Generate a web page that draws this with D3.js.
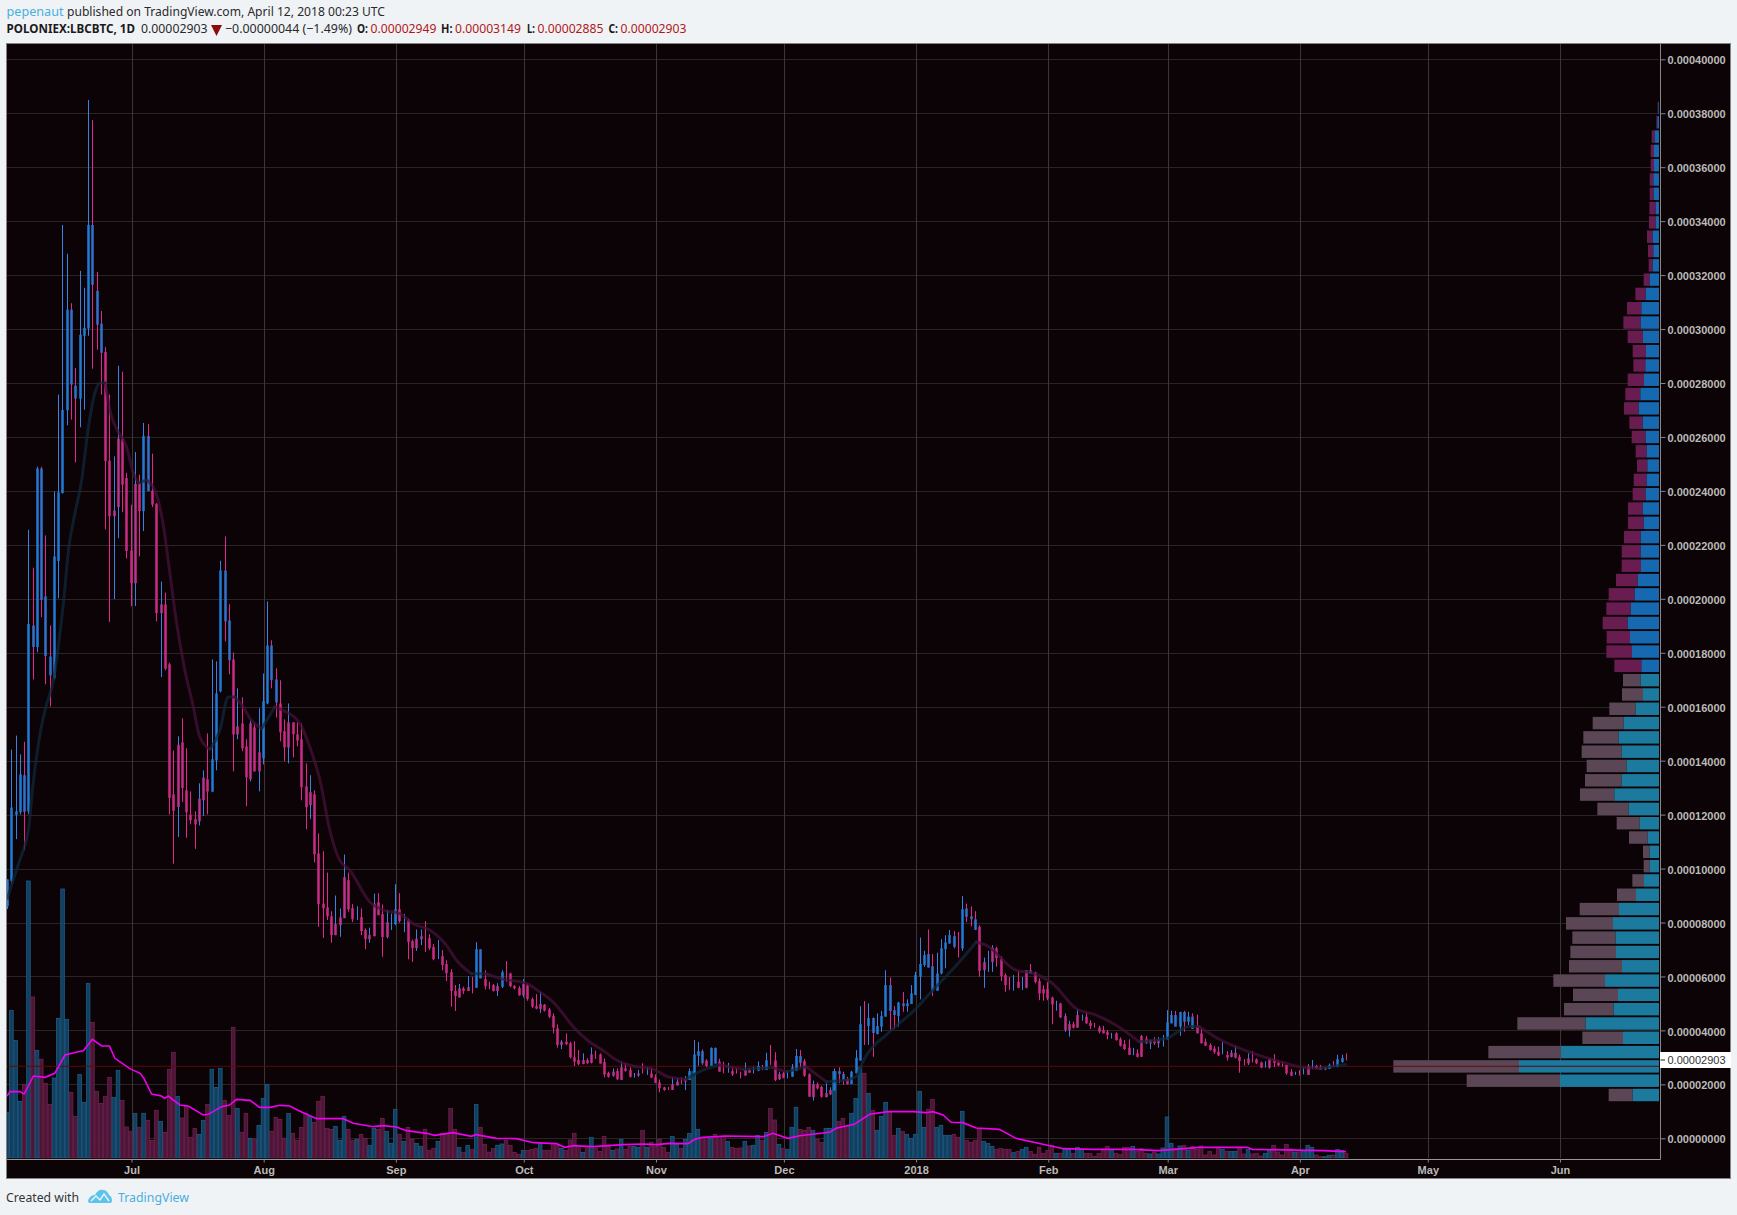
<!DOCTYPE html>
<html><head><meta charset="utf-8">
<script src="https://cdn.jsdelivr.net/npm/d3@7/dist/d3.min.js"></script>
<style>html,body{margin:0;padding:0;background:#f0f3f6}svg{display:block}</style>
</head><body><div id="c"></div>
<script>
// Prices are in units of 0.00001 BTC. One daily bar per index, first bar 2 Jun 2017.
const firstDay = Date.UTC(2017,5,2);
const opens=[8.6,9.54,11.99,12.09,12.1,12.12,18.21,18.21,19.96,17.88,
17.16,17.07,21.4,23.92,26.99,27.94,27.42,27.42,29.75,30.02,
31.64,30.16,29.12,29.15,25.12,23.27,25.94,25.94,24.48,21.79,
24.26,24.28,23.25,23.99,24.01,23.52,19.79,19.79,17.57,12.75,
14.59,14.68,12.9,12.0,11.83,12.59,13.37,13.31,12.85,14.01,
16.57,19.16,17.72,17.75,15.27,15.38,14.53,15.38,15.23,14.31,
14.09,16.12,16.98,16.16,16.12,15.09,15.42,15.42,14.98,14.79,
13.05,12.83,12.75,10.56,8.7,8.56,8.23,7.94,8.19,9.68,
9.57,8.53,8.35,8.2,7.72,7.53,8.7,8.75,8.31,8.01,
8.0,7.94,8.49,8.0,8.09,7.31,7.4,7.49,7.5,7.42,
7.09,7.0,6.75,6.46,6.16,5.46,5.56,5.56,5.6,5.7,
5.58,5.93,5.9,5.65,5.68,5.64,5.62,6.2,6.11,5.64,
5.57,5.72,5.67,5.16,4.9,4.98,4.95,4.78,4.53,4.07,
3.58,3.58,3.52,3.0,2.9,2.9,2.9,3.11,3.1,3.11,
2.83,2.42,2.47,2.49,2.63,2.59,2.53,2.33,2.4,2.6,
2.5,2.4,2.26,2.07,1.89,1.85,2.0,2.1,2.14,2.2,
2.16,2.41,3.06,2.78,2.88,2.68,2.77,2.84,2.6,2.6,
2.49,2.5,2.35,2.53,2.53,2.5,2.51,2.6,2.53,3.0,
2.89,2.38,2.41,2.35,2.28,2.5,2.8,2.86,2.37,2.01,
2.0,1.91,1.67,1.79,1.77,2.38,2.16,2.2,2.01,2.41,
2.88,4.0,4.16,3.9,3.86,4.14,4.51,4.72,4.57,4.53,
4.9,4.9,4.98,5.31,5.99,6.42,6.33,5.47,5.47,6.11,
7.01,7.22,7.1,7.2,7.04,8.21,8.12,7.73,7.84,6.53,
6.5,7.07,7.04,6.67,6.05,5.7,5.7,5.8,5.7,6.23,
6.11,6.15,5.83,5.53,5.53,5.22,4.9,5.0,4.53,4.23,
4.23,4.57,4.45,4.51,4.28,4.2,4.11,4.01,3.95,3.8,
3.89,3.67,3.49,3.36,3.2,3.15,3.79,3.7,3.64,3.62,
3.64,3.6,3.67,4.26,4.14,4.14,4.32,4.32,4.06,4.16,
3.89,3.58,3.46,3.33,3.21,3.3,3.09,3.17,3.17,3.02,
2.8,2.96,3.0,2.93,2.81,2.7,2.93,2.93,2.81,2.7,
2.72,2.47,2.4,2.4,2.5,2.68,2.7,2.68,2.65,2.62,
2.57,2.7,2.65,2.83,2.949];
const highs=[9.6,14.41,14.93,14.23,14.7,22.56,21.15,24.9,24.9,22.35,
19.01,23.98,27.57,33.86,32.79,30.96,28.56,32.16,31.53,38.49,
37.75,32.12,30.67,29.33,27.57,25.28,28.64,28.42,24.67,23.49,
25.44,24.6,26.52,26.48,25.38,23.55,20.64,20.23,17.63,14.38,
14.9,15.57,14.46,12.86,12.12,13.16,13.64,15.01,17.75,17.68,
21.41,22.31,19.8,18.01,16.68,16.35,14.79,15.49,15.38,15.94,
17.23,19.9,18.46,17.42,16.98,15.53,16.12,15.42,15.42,15.38,
13.9,13.46,12.9,11.3,10.64,9.85,8.42,9.0,8.52,10.52,
9.85,8.68,8.6,8.52,7.78,7.81,9.07,9.09,8.67,8.46,
8.33,9.42,9.09,8.31,8.15,7.37,7.74,7.74,8.05,7.57,
7.2,7.35,6.98,6.6,6.27,5.68,5.72,5.62,6.01,5.99,
7.27,7.01,6.23,5.8,5.72,5.75,6.23,6.57,6.14,5.68,
5.64,5.9,5.72,5.22,5.35,5.42,4.98,4.83,4.63,4.22,
3.64,3.89,3.58,3.6,3.27,3.15,2.97,3.37,3.25,3.15,
2.96,2.47,2.59,2.59,2.83,2.78,2.63,2.42,2.53,2.78,
2.63,2.62,2.37,2.18,1.91,1.9,2.26,2.22,2.26,2.31,
2.59,3.64,3.57,3.3,2.93,3.37,3.37,2.95,2.84,2.8,
2.63,2.6,2.47,2.81,2.6,2.65,2.85,2.72,3.17,3.46,
3.19,2.47,2.47,2.49,2.75,3.31,3.27,2.94,2.41,2.14,
2.07,1.95,2.04,1.89,2.59,2.63,2.47,2.28,2.5,3.27,
4.9,5.09,5.0,4.48,4.63,4.72,6.23,5.96,4.9,5.06,
5.42,5.15,5.68,6.17,7.44,6.95,7.74,6.83,6.88,7.38,
7.53,7.72,7.68,7.65,8.98,8.7,8.6,8.42,7.9,6.7,
6.95,7.16,7.1,6.75,6.11,5.98,6.05,6.21,5.98,6.23,
6.46,6.18,5.93,5.67,5.79,5.25,5.1,5.02,4.63,4.36,
4.32,4.78,4.59,4.67,4.38,4.28,4.17,4.17,4.01,3.91,
3.93,3.74,3.64,3.67,3.35,3.3,3.83,3.79,3.66,3.75,
3.75,3.83,4.75,4.73,4.72,4.69,4.72,4.69,4.63,4.59,
4.08,3.7,3.52,3.42,3.4,3.57,3.23,3.27,3.42,3.1,
2.94,3.15,3.23,2.96,2.84,2.86,2.96,3.12,2.86,2.84,
2.74,2.57,2.47,2.53,2.62,2.75,2.9,2.72,2.72,2.65,
2.77,2.86,3.1,3.1,3.149];
const lows=[8.5,9.44,11.09,12.0,10.68,12.01,17.01,18.02,19.32,16.83,
16.01,17.01,20.02,23.9,26.43,26.64,25.06,26.36,27.01,29.75,
28.53,29.23,27.57,22.57,19.14,19.99,22.25,23.21,21.5,19.73,
19.73,21.57,22.51,23.99,23.4,19.16,17.1,17.35,12.01,10.18,
11.17,12.47,11.14,11.64,10.73,11.6,11.95,12.01,12.83,13.64,
16.53,18.42,17.2,13.6,14.79,14.35,12.31,13.23,13.6,12.86,
13.86,16.09,16.68,15.6,14.72,13.98,13.9,14.12,14.53,12.53,
11.46,11.83,10.23,7.84,7.43,8.09,7.25,7.53,7.47,8.16,
8.4,8.02,8.09,7.53,7.01,7.25,7.49,8.27,6.73,7.41,
7.72,7.9,7.99,7.64,6.64,6.54,6.95,7.16,6.91,6.98,
6.6,6.64,6.23,5.83,4.88,4.72,5.22,5.35,5.46,5.37,
5.58,5.93,5.52,5.52,5.44,5.27,5.57,5.8,5.6,5.52,
5.28,5.22,5.1,4.83,4.78,4.65,4.7,4.46,3.89,3.36,
3.31,3.45,2.96,2.68,2.71,2.75,2.76,2.78,2.94,2.77,
2.26,2.25,2.28,2.16,2.16,2.47,2.25,2.25,2.28,2.4,
2.35,2.23,2.04,1.7,1.76,1.79,1.79,1.95,2.01,1.79,
2.16,2.41,2.69,2.72,2.64,2.68,2.77,2.47,2.41,2.43,
2.31,2.4,2.22,2.32,2.43,2.4,2.49,2.53,2.53,2.72,
2.12,2.16,2.22,2.22,2.28,2.5,2.63,2.28,1.54,1.4,
1.81,1.51,1.51,1.6,1.77,2.04,1.98,1.99,2.01,2.41,
2.88,3.46,3.46,3.02,3.86,3.95,4.51,4.01,4.05,4.14,
4.69,4.69,4.98,5.31,5.15,6.36,6.33,5.27,5.47,6.08,
6.3,7.22,7.04,6.7,6.95,8.02,7.86,7.72,5.99,5.58,
6.17,6.17,6.36,5.83,5.43,5.5,5.47,5.56,5.5,5.56,
6.11,5.74,5.12,5.1,5.12,4.23,4.73,4.46,3.95,3.77,
4.07,4.1,4.36,4.23,4.05,4.1,3.89,3.89,3.67,3.7,
3.62,3.4,3.27,3.09,3.08,2.99,3.02,3.5,3.31,3.46,
3.36,3.4,3.67,4.26,4.14,3.8,3.95,4.2,4.06,3.89,
3.52,3.42,3.25,3.13,3.05,3.11,2.88,3.0,2.96,2.43,
2.7,2.72,2.81,2.75,2.6,2.62,2.58,2.64,2.67,2.65,
2.35,2.31,2.35,2.32,2.37,2.35,2.57,2.57,2.53,2.53,
2.57,2.65,2.63,2.8,2.885];
const closes=[9.6,12.26,12.12,13.49,13.46,19.07,19.01,24.83,24.83,20.09,
17.86,21.57,23.94,27.0,30.72,30.72,27.9,29.79,30.04,33.86,
33.86,31.42,30.2,25.1,23.06,23.06,23.4,24.23,21.77,20.58,
20.58,23.25,26.04,26.04,23.49,19.47,19.47,17.41,12.62,12.14,
12.28,12.99,12.09,11.79,11.64,11.75,12.53,12.86,14.05,16.49,
21.05,21.05,19.2,14.97,14.97,14.46,13.38,13.31,13.6,13.6,
16.2,18.27,18.27,17.01,15.05,14.49,14.49,14.98,14.75,13.01,
12.27,12.35,10.53,8.68,8.53,8.23,7.53,7.53,7.9,8.16,
8.49,8.12,8.35,7.68,7.38,7.38,7.49,8.27,7.46,7.46,
8.0,8.49,8.05,8.0,7.27,7.05,7.05,7.38,7.5,7.05,
6.64,7.0,6.42,6.12,5.46,5.27,5.22,5.46,5.46,5.7,
7.01,7.01,5.64,5.65,5.46,5.46,6.16,6.2,5.64,5.56,
5.3,5.3,5.16,4.88,4.81,4.79,4.73,4.51,4.1,3.46,
3.46,3.49,3.0,2.84,2.75,2.75,2.78,2.8,3.1,2.77,
2.37,2.28,2.32,2.19,2.16,2.5,2.28,2.33,2.33,2.6,
2.5,2.25,2.06,1.86,1.79,1.85,1.79,1.96,2.14,2.1,
2.49,3.11,3.23,3.23,2.68,3.35,3.35,2.47,2.6,2.6,
2.37,2.5,2.35,2.32,2.43,2.5,2.68,2.6,2.89,3.0,
2.16,2.19,2.25,2.35,2.63,3.05,3.05,2.32,1.54,1.52,
1.85,1.54,1.53,1.63,2.49,2.49,2.38,2.01,2.47,2.98,
4.23,4.0,4.46,4.46,4.16,4.53,5.68,5.68,4.75,5.03,
5.0,5.0,5.37,6.05,6.46,6.79,6.83,6.38,6.11,7.04,
7.26,7.53,7.49,7.2,8.49,8.52,8.23,8.12,6.21,6.23,
6.5,6.53,6.68,6.01,5.68,5.7,5.7,5.58,5.7,5.58,
6.23,5.8,5.37,5.37,5.19,4.96,4.9,4.48,4.01,4.01,
4.1,4.1,4.45,4.26,4.16,4.2,3.95,3.89,3.83,3.8,
3.64,3.43,3.31,3.09,3.2,3.02,3.02,3.52,3.52,3.52,
3.52,3.6,4.3,4.57,4.57,4.68,4.68,4.51,4.51,3.89,
3.52,3.43,3.27,3.19,3.07,3.3,2.99,3.02,2.99,2.86,
2.8,2.78,3.0,2.78,2.62,2.7,2.62,2.79,2.7,2.7,
2.41,2.32,2.4,2.4,2.5,2.35,2.7,2.59,2.53,2.55,
2.72,2.7,2.93,2.98,2.903];
const volumes=[137,443,353,170,221,831,483,323,296,224,
161,240,419,807,416,197,125,251,167,524,
407,200,164,185,242,182,263,173,93,80,
134,92,134,113,53,143,110,77,266,317,
185,120,155,62,89,71,113,161,266,212,
269,173,128,392,149,77,134,59,56,98,
179,221,80,122,116,59,134,74,53,92,
134,125,107,170,185,89,86,95,53,125,
86,53,56,71,59,38,89,86,119,80,
44,146,71,50,92,56,44,35,86,23,
29,50,74,74,149,86,32,17,38,26,
161,92,41,17,29,38,42,53,38,17,
11,23,23,26,29,44,23,23,43,37,
29,23,54,74,35,17,35,62,29,20,
65,35,23,27,56,26,35,35,32,83,
32,47,35,56,32,17,65,44,29,56,
74,259,86,62,62,59,71,65,66,50,
32,29,30,50,36,38,68,52,77,149,
114,41,29,26,92,152,86,83,92,83,
56,47,89,89,259,110,119,95,134,179,
274,254,194,143,83,125,167,140,68,89,
80,71,59,71,200,92,146,176,92,98,
68,68,71,62,140,53,47,53,86,50,
44,35,26,29,26,26,16,20,26,32,
20,11,32,14,23,38,14,14,26,26,
14,32,26,14,14,5,14,26,35,26,
14,11,32,32,35,20,28,14,12,18,
12,30,123,44,28,36,38,24,34,26,
36,9,20,9,32,26,20,20,20,32,
12,26,12,14,6,14,22,38,18,9,
41,27,18,18,22,38,32,9,4,4,
8,9,26,22,14];
const volSide=("u u u u d u d u d d  d u u u u d d u u u  d d d d d u u d d d  u d u d d d u d d d "+
"u d d d d u u d u u  u d d d u d d u d u  u u d d d d u d d d  d u d d d d d u u u "+
"d d u d d u u d d u  u u d u d d u u d d  d u d d d d u d u d  u d d d d u u d d d "+
"d u d d d u d d d d  u d d d d u d u d d  d d u d u d d u u d  u d d d d d u u d u "+
"u u u d d u d d d u  d d d u d u u d u d  d u d u u u d d d u  d d u u u d d d u u "+
"u d u d u u u d d u  d u u u u u d d u u  u u d d u d d d d u  u u d d d d u d u u "+
"d d d d d d u d u u  d u u d d d d d d u  d d d d u d d d u d  u u u u d u d u d d "+
"d d d d d u d u u d  d u d d d u u d d d  d d u d u u u d d u  u d u u d").trim().split(/\s+/);
// Moving average of price: bar position, value
const maAt=[0.1,0.8,2.7,3.8,5,6.2,7.9,9.1,10.9,12,13.2,14.5,15.9,17.5,19,20.6,21.8,23,24.5,25.7,28,29.6,30.8,32.7,34.7,36.6,38.2,39.8,41.7,43.7,45.2,47.6,49.9,51.9,53.4,55.4,57,59.7,62.8,64.8,68.7,71,73.4,75.7,78,80.4,85,88.2,92.1,95.2,99.1,103,105.4,108.9,112.4,115.5,121.8,124.9,128,133.5,136.6,140.2,142.9,146.8,151.5,155.4,159.3,160.9,163.2,167.1,172.6,179.6,182.7,187.4,192.1,196.8,199.1,200.7,207,212.8,217.1,223,227.3,229.6,236.6,240.9,245.2,250.7,255.4,260,265.5,271.8,277.3,279.6,284.3,290.5,299.9,303,307.7,314];
const maVal=[8.9,9.26,10.18,10.68,11.42,13.27,15.12,15.99,16.98,18.2,19.8,21.91,23.15,24.4,26.27,27.63,28,28,26.76,26.3,25.65,24.67,24.3,24.4,24.01,22.78,20.93,19.07,17.35,15.99,14.88,14.42,15.12,16.36,16.36,15.99,15.56,15.19,15.99,15.86,15.37,14.51,13.27,11.42,10.31,9.94,8.77,8.46,8.33,7.96,7.72,7.16,6.6,6.1,6.1,5.93,5.74,5.43,5.06,4.01,3.58,3.21,2.9,2.68,2.56,2.26,2.19,2.35,2.53,2.72,2.56,2.62,2.47,2.65,2.1,2.16,2.28,2.84,3.95,4.75,5.49,6.48,7.28,7.16,6.23,6.11,5.74,4.81,4.57,4.2,3.58,3.7,4.14,4.14,3.67,3.25,2.78,2.65,2.59,2.74];
// Moving average of volume
const volMaAt=[0,0.7,3,4,6.2,8.9,11.2,13.6,16.7,17.9,20,22.2,24,25.3,28.8,31.2,32.1,33.9,36.2,37,37.8,40.5,42.5,46,47.2,50.3,52.2,53.8,57,59.2,61.7,64,66.3,68.7,72.6,78.8,81.2,85.9,88.2,91.3,93.7,98.4,100.3,104.6,108.9,110,114.8,119.5,123.4,128.8,130.8,132.8,137.4,144.5,149.2,152.3,155.4,159.7,161.3,163.2,168.7,177.3,179.6,183.1,185.9,192.9,194.4,198.7,202.3,206.6,212.4,215.5,217.1,219.5,221.4,224.1,227.3,232.7,236.6,244,247.8,254.6,264,270,279.6,290.9,292,308.5,314];
const volMaVal=[186,199,199,192,246,242,254,309,319,322,356,336,336,299,268,254,239,192,186,179,186,159,156,129,131,154,159,176,173,152,152,158,156,140,118,118,104,94,97,93,82,74,68,76,65,70,59,58,46,43,32,37,34,40,42,40,44,43,56,62,66,64,74,59,67,77,89,101,131,139,139,136,139,129,107,106,90,86,59,38,28,26,26,22,32,32,26,22,19];
// Volume profile by price row, lowest row first
const profileStart=1.605, profileStep=0.5303;
const profUp=[79,297,420,294,108,220,136,123,162,111,129,130,138,120,69,45,28,28,34,58,91,134,112,97,112,121,106,70,48,55,53,81,87,94,85,73,64,54,55,55,46,49,40,37,35,37,40,49,61,56,45,41,39,48,55,53,40,28,19,17,19,10,10,16,17,15,15,13,5,2];
const profDown=[72,280,377,218,122,205,149,135,155,159,137,130,141,118,57,35,18,20,56,69,94,103,110,120,120,106,93,79,63,53,81,77,70,75,73,78,65,58,57,50,47,44,39,39,31,33,42,40,44,45,49,36,40,46,52,43,31,18,12,16,17,20,19,12,11,10,10,9,3,2];
const valueAreaRows=30;
// Axes
const yTicks=[0,2,4,6,8,10,12,14,16,18,20,22,24,26,28,30,32,34,36,38,40];
const monthDates=[[2017,6],[2017,7],[2017,8],[2017,9],[2017,10],[2017,11],[2018,0],[2018,1],[2018,2],[2018,3],[2018,4],[2018,5]];
const monthLabels=["Jul","Aug","Sep","Oct","Nov","Dec","2018","Feb","Mar","Apr","May","Jun"];
const lastClose=2.903, markLevel=2.67;
const header={user:"pepenaut",rest:"published on TradingView.com, April 12, 2018 00:23 UTC",sym:"POLONIEX:LBCBTC, 1D",last:"0.00002903",chg:"\u22120.00000044 (\u22121.49%)",
 ohlc:[["O:","0.00002949",357,370.5],["H:","0.00003149",441,455],["L:","0.00002885",527,537.5],["C:","0.00002903",608.5,620.5]]};

if([highs,lows,closes,volumes,volSide].some(a=>a.length!==opens.length)) throw new Error("length mismatch "+[opens,highs,lows,closes,volumes,volSide].map(a=>a.length));

const W=1737,H=1215,L=7,R=1659.5,T=44,B=1158.5;
const svg=d3.select("#c").append("svg").attr("width",W).attr("height",H);
svg.append("rect").attr("width",W).attr("height",H).attr("fill","#f0f3f6");
svg.append("rect").attr("x",6.5).attr("y",43.5).attr("width",1724).attr("height",1135).attr("fill","#0b0305").attr("stroke","#86827f");
const defs=svg.append("defs");
defs.append("clipPath").attr("id","plot").append("rect").attr("x",L).attr("y",T).attr("width",R-L).attr("height",B-T);

const x=d3.scaleUtc().domain([Date.UTC(2017,6,1),Date.UTC(2018,5,1)]).range([131.5,1560]);
const y=d3.scaleLinear().domain([0,40]).range([1138.3,59.3]);
const vy=d3.scaleLinear().domain([0,831]).range([1158,881]);
const px=d3.scaleLinear().domain([0,420]).range([0,140]);
const shift=-0.8;
const barX=i=>x(firstDay+i*864e5)+shift;
const months=monthDates.map(d=>new Date(Date.UTC(d[0],d[1],1)));

const plot=svg.append("g").attr("clip-path","url(#plot)");
// grid
plot.append("g").selectAll("line").data(yTicks).join("line").attr("x1",L).attr("x2",R)
 .attr("y1",d=>Math.round(y(d))+.5).attr("y2",d=>Math.round(y(d))+.5).attr("stroke","#2a2425");
plot.append("g").selectAll("line").data(months).join("line").attr("y1",T).attr("y2",B)
 .attr("x1",d=>Math.round(x(d))+.5).attr("x2",d=>Math.round(x(d))+.5).attr("stroke","#3a3536");

const UP="#1e78d2",DN="#c42c82",WUP="#3a82e2",WDN="#e2278f";
// volume bars
plot.append("g").selectAll("rect").data(volumes).join("rect")
 .attr("x",(d,i)=>barX(i)-1.7).attr("width",3.6).attr("y",d=>vy(d)).attr("height",d=>vy(0)-vy(d))
 .attr("fill",(d,i)=>volSide[i]=="u"?"#123f5e":"#4c1636").attr("stroke",(d,i)=>volSide[i]=="u"?"#1d5c88":"#70214f").attr("stroke-width",.8);
// profile
const rows=profUp.map((u,i)=>({u,d:profDown[i],p:profileStart+i*profileStep,i}));
const rowH=Math.abs(y(0)-y(profileStep))*0.87;
const prof=plot.append("g").attr("transform","translate(-0.5,0)");
prof.selectAll("rect.d").data(rows).join("rect").attr("class","d")
 .attr("x",d=>R-px(d.u+d.d)).attr("width",d=>px(d.d)).attr("y",d=>y(d.p)-rowH/2).attr("height",rowH)
 .attr("fill",d=>d.i<valueAreaRows?"#5b4656":"#681c4f");
prof.selectAll("rect.u").data(rows).join("rect").attr("class","u")
 .attr("x",d=>R-px(d.u)).attr("width",d=>px(d.u)).attr("y",d=>y(d.p)-rowH/2).attr("height",rowH)
 .attr("fill",d=>d.i<valueAreaRows?"#1b7a9e":"#1668b0");
// level line
plot.append("line").attr("x1",L).attr("x2",R).attr("y1",y(markLevel)).attr("y2",y(markLevel)).attr("stroke","#5e0a0c").attr("stroke-width",1);
// candles
const bars=opens.map((o,i)=>({o,h:highs[i],l:lows[i],c:closes[i],i}));
const cg=plot.append("g");
cg.selectAll("line").data(bars).join("line")
 .attr("x1",d=>Math.round(barX(d.i))+.5).attr("x2",d=>Math.round(barX(d.i))+.5)
 .attr("y1",d=>y(d.h)).attr("y2",d=>y(d.l)).attr("stroke",d=>volSide[d.i]=="u"?WUP:WDN);
cg.selectAll("rect").data(bars.filter(d=>Math.abs(d.o-d.c)>0.05)).join("rect")
 .attr("x",d=>Math.round(barX(d.i))-1).attr("width",3)
 .attr("y",d=>y(Math.max(d.o,d.c))).attr("height",d=>Math.abs(y(d.o)-y(d.c)))
 .attr("fill",d=>d.c>d.o?UP:DN).attr("fill-opacity",.78);
// price MA, coloured by direction
const maPts=maAt.map((a,i)=>[barX(a),y(maVal[i]),maVal[i]]);
const line=d3.line().x(d=>d[0]).y(d=>d[1]).curve(d3.curveMonotoneX);
let run=[maPts[0]],dir=maPts[1][2]>=maPts[0][2];
const runs=[];
for(let i=1;i<maPts.length;i++){const nd=maPts[i][2]>=maPts[i-1][2];
 if(nd!==dir){runs.push({dir,pts:run});run=[maPts[i-1]];dir=nd;} run.push(maPts[i]);}
runs.push({dir,pts:run});
plot.append("g").selectAll("path").data(runs).join("path").attr("d",d=>line(d.pts)).attr("fill","none")
 .attr("stroke",d=>d.dir?"#11293b":"#46123a").attr("stroke-width",3).attr("stroke-opacity",.72).attr("stroke-linecap","round");
// volume MA
plot.append("path").attr("d",d3.line().x((d,i)=>barX(d)).y((d,i)=>vy(volMaVal[i]))(volMaAt))
 .attr("fill","none").attr("stroke","#f000f0").attr("stroke-width",1.6);

// axes
svg.append("line").attr("x1",1660.5).attr("x2",1660.5).attr("y1",T).attr("y2",1159.5).attr("stroke","#8a8684");
svg.append("line").attr("x1",L).attr("x2",1660.5).attr("y1",1159.5).attr("y2",1159.5).attr("stroke","#9a9694");
const yAxis=d3.axisRight(y).tickValues(yTicks).tickSize(5).tickPadding(2).tickFormat(d=>(d*1e-5).toFixed(8));
const ya=svg.append("g").attr("transform","translate(1660.5,0)").call(yAxis);
ya.selectAll("text").attr("dy","0.42em");
const xAxis=d3.axisBottom(x).tickValues(months).tickSize(3).tickPadding(4).tickFormat((d,i)=>monthLabels[i]);
const xa=svg.append("g").attr("transform","translate(0,1159.5)").call(xAxis);
[ya,xa].forEach(g=>{g.select(".domain").remove();g.selectAll("line").attr("stroke","#8a8684");
 g.selectAll("text").attr("fill","#bcbab8").attr("font-family","Liberation Sans").attr("font-weight","bold").attr("font-size",11);});
// last price label
svg.append("rect").attr("x",1660).attr("y",y(lastClose)-8).attr("width",71).attr("height",16).attr("fill","#fff");
svg.append("line").attr("x1",1660.5).attr("x2",1665).attr("y1",y(lastClose)).attr("y2",y(lastClose)).attr("stroke","#222");
svg.append("text").attr("x",1667.5).attr("y",y(lastClose)+4).attr("fill","#333").attr("font-family","Liberation Sans").attr("font-size",11).attr("textLength",58).text((lastClose*1e-5).toFixed(8));

// header
const F="'Noto Sans'";
function t(str,xx,yy,w,col,bold,size){return svg.append("text").attr("x",xx).attr("y",yy).attr("fill",col).attr("font-family",F)
 .attr("font-size",size||12.5).attr("font-weight",bold?"bold":"normal").attr("textLength",w).attr("lengthAdjust","spacingAndGlyphs").text(str);}
t(header.user,6.5,16,57,"#4aaee0");
t(header.rest,67,16,318,"#2a2a2a");
t(header.sym,6.5,33,128.5,"#1a1a1a",true);
t(header.last,141,33,66.5,"#2a2a2a");
svg.append("path").attr("d",d3.line()([[211,25],[222,25],[216.5,36]])+"Z").attr("fill","#8e0b0b");
t(header.chg,225,33,127,"#2a2a2a");
header.ohlc.forEach(o=>{t(o[0],o[2],33,o[3]-o[2]-2.5,"#1a1a1a",true);t(o[1],o[3],33,66,"#b01818");});
// footer
t("Created with",6,1202,73,"#333",false,13);
t("TradingView",118,1202,71,"#4aaee0",false,13);
const cloud=svg.append("g").attr("transform","translate(88,1188)");
cloud.append("path").attr("d","M0,13 C1,9 4,7 7,7 C9,3 12,1 15,2 C18,2 20,4 21,7 C23,8 24,10 24,13 Q24,15 22,15 L2,15 Q0,15 0,13Z").attr("fill","#5cc4ea");
cloud.append("path").attr("d","M3,13 L8,8 L12,12 L16,6 L21,13").attr("fill","none").attr("stroke","#f0f3f6").attr("stroke-width",1.4);
</script></body></html>
